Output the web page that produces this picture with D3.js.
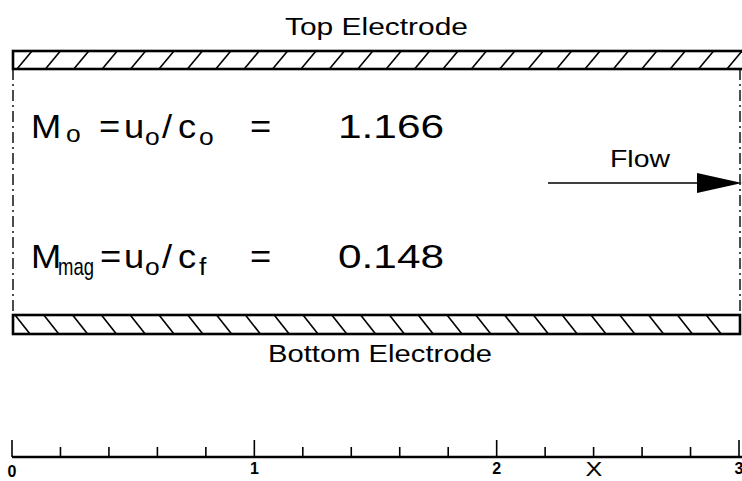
<!DOCTYPE html>
<html>
<head>
<meta charset="utf-8">
<script src="https://cdn.jsdelivr.net/npm/d3@7"></script>
<style>
  html, body { margin: 0; padding: 0; background: #fff; }
  svg { display: block; font-family: "Liberation Sans", Arial, sans-serif; }
</style>
</head>
<body>
<svg id="chart"></svg>
<script>
// axis values
const axisDomain = [0, 3];
const majorTicks = [0, 1, 2, 3];
const minorTicks = d3.range(0, 3.0001, 0.2);
const axisTitle = "X";

// electrode labels
const electrodeLabels = ["Top Electrode", "Bottom Electrode"];
const flowLabel = "Flow";

// the two Mach numbers
const machNames = ["o", "mag"];
const machSpeeds = ["o", "f"];
const machValues = ["1.166", "0.148"];

const width = 742, height = 481;
const svg = d3.select("#chart").attr("width", width).attr("height", height);

const left = 13, right = 740;
const topY0 = 51, topY1 = 69;   // top electrode band
const botY0 = 315, botY1 = 334; // bottom electrode band

// hatch lines, top electrode "/" and bottom "\"
function electrode(y0, y1, dir, start, step, x1) {
  const g = svg.append("g");
  const xs = d3.range(left + start, x1 - 10, step);
  g.selectAll("line.hatch")
    .data(xs)
    .enter()
    .append("line")
    .attr("class", "hatch")
    .attr("x1", d => d)
    .attr("x2", d => d + 15)
    .attr("y1", dir === "up" ? y1 : y0)
    .attr("y2", dir === "up" ? y0 : y1)
    .attr("stroke", "#000")
    .attr("stroke-width", 1.6);
  g.append("rect")
    .attr("x", left).attr("y", y0)
    .attr("width", x1 - left).attr("height", y1 - y0)
    .attr("fill", "none")
    .attr("stroke", "#000")
    .attr("stroke-width", 2.6);
}
electrode(topY0, topY1, "up", 4, 28.4, 744);
electrode(botY0, botY1, "down", 2, 28.8, right);

// channel side boundaries (dash-dot)
[left, right].forEach(x => {
  svg.append("line")
    .attr("x1", x).attr("x2", x)
    .attr("y1", topY1).attr("y2", botY0)
    .attr("stroke", "#000")
    .attr("stroke-width", 1.4)
    .attr("stroke-dasharray", "11,4,2,4");
});

// stretched text helper (the original lettering is wider than the font)
function label(x, y, size, str, len, sx = 1.2) {
  const t = svg.append("text")
    .attr("transform", `translate(${x},${y}) scale(${sx},1)`)
    .attr("font-size", size)
    .text(str);
  if (len) t.attr("textLength", len / sx).attr("lengthAdjust", "spacingAndGlyphs");
  return t;
}

// electrode captions
label(285, 35, 24, electrodeLabels[0], 183);
label(268, 362, 24, electrodeLabels[1], 224);

// Mach number lines
const lineY = [138, 268];
const big = 33, small = 24, bx = 1.1;
machValues.forEach((v, i) => {
  const y = lineY[i];
  label(31, y, big, "M", null, bx);
  if (i === 0) label(66, y + 4, small, machNames[i], null, bx);
  else label(58, y + 7, small, machNames[i], 36, bx);
  label(i === 0 ? 99 : 100, y, big, "=", null, bx);
  label(124, y, big, "u", null, bx);
  label(145, y + 7, small, "o", null, bx);
  label(162, y, big, "/", null, bx);
  label(178, y, big, "c", null, bx);
  label(199, y + 7, small, machSpeeds[i], null, bx);
  label(250, y, big, "=", null, bx);
  label(338, y, big, v, 106, bx);
});

// flow arrow
const flowY = 183;
label(610, 167, 23, flowLabel, 60);
svg.append("line")
  .attr("x1", 548).attr("x2", 700)
  .attr("y1", flowY).attr("y2", flowY)
  .attr("stroke", "#000").attr("stroke-width", 1.6);
svg.append("path")
  .attr("d", `M697,${flowY - 10}L742,${flowY}L697,${flowY + 10}Z`)
  .attr("fill", "#000");

// x axis
const axisY = 457;
const x = d3.scaleLinear().domain(axisDomain).range([12, 739]);
const axis = svg.append("g");
axis.append("line")
  .attr("x1", x(0)).attr("x2", 742)
  .attr("y1", axisY).attr("y2", axisY)
  .attr("stroke", "#000").attr("stroke-width", 2.6);
axis.selectAll("line.minor")
  .data(minorTicks)
  .enter()
  .append("line")
  .attr("class", "minor")
  .attr("x1", d => x(d)).attr("x2", d => x(d))
  .attr("y1", axisY).attr("y2", d => Math.abs(d - Math.round(d)) < 1e-6 ? axisY - 17 : axisY - 10)
  .attr("stroke", "#000").attr("stroke-width", 1.6);
axis.selectAll("text.tick")
  .data(majorTicks)
  .enter()
  .append("text")
  .attr("class", "tick")
  .attr("x", d => x(d))
  .attr("y", d => d === 0 ? 477 : 474)
  .attr("text-anchor", "middle")
  .attr("font-size", 16)
  .attr("font-weight", "bold")
  .text(d => d);
axis.append("text")
  .attr("transform", "translate(594,476) scale(1.2,1)")
  .attr("text-anchor", "middle")
  .attr("font-size", 21)
  .text(axisTitle);
</script>
</body>
</html>
